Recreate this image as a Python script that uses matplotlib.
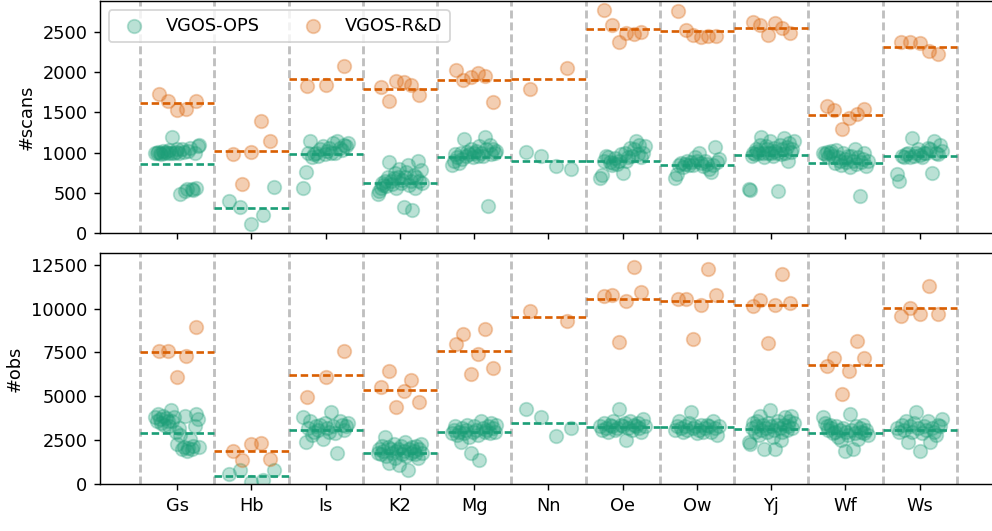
import numpy as np
import matplotlib.pyplot as plt

stations = ["Gs", "Hb", "Is", "K2", "Mg", "Nn", "Oe", "Ow", "Yj", "Wf", "Ws"]

# number of scans per session, VGOS-OPS
ops_scans = [
    [1000, 990, 1010, 1000, 985, 1020, 995, 1005, 1000, 1030, 990, 1200, 1000,
     1010, 1040, 1000, 480, 1050, 1010, 520, 540, 1020, 1060, 550, 530, 1000,
     560, 1080, 1100],
    [397, 321, 104, 217, 565],
    [560, 760, 1000, 1150, 950, 980, 1000, 960, 1040, 1080, 980, 1020, 1060,
     990, 1120, 1000, 1150, 1060, 1030, 1100, 1080, 1120],
    [480, 520, 560, 620, 600, 650, 580, 700, 880, 640, 610, 680, 750, 560, 700,
     800, 620, 660, 320, 690, 760, 850, 600, 650, 280, 720, 560, 700, 900, 640,
     780, 620],
    [850, 900, 980, 950, 870, 1000, 920, 1170, 960, 1010, 980, 1050, 940, 990,
     1020, 960, 1080, 1000, 960, 1200, 1040, 330, 1100, 980, 1050, 1000, 1020],
    [1011, 957, 836, 790],
    [680, 720, 900, 960, 940, 880, 850, 870, 930, 860, 900, 980, 740, 1000,
     900, 940, 1060, 960, 1040, 1150, 980, 1100, 950, 1000, 1080],
    [680, 730, 850, 870, 820, 860, 900, 840, 880, 850, 950, 900, 1000, 870, 830,
     900, 860, 800, 760, 850, 1070, 880, 920],
    [550, 530, 960, 1000, 980, 1050, 1020, 990, 1100, 1200, 1000, 950, 1080,
     1040, 990, 1150, 1000, 960, 1060, 1020, 1000, 520, 1100, 980, 1050, 1180,
     1000, 1070, 900, 1120, 1010, 1040, 1150],
    [1000, 980, 1010, 950, 990, 1020, 960, 870, 1030, 940, 900, 850, 1000, 920,
     880, 960, 820, 960, 900, 1050, 860, 940, 455, 880, 920, 1000, 830, 900],
    [730, 640, 960, 950, 980, 1000, 940, 1180, 960, 1000, 1050, 970, 940, 1000,
     990, 1060, 1040, 750, 1150, 1000, 980, 1100, 1020],
]

# number of scans per session, VGOS-R&D
rd_scans = [
    [1735, 1640, 1535, 1547, 1644],
    [979, 602, 1011, 1396, 1149],
    [1836, 1848, 2078],
    [1819, 1648, 1890, 1877, 1840, 1714],
    [2024, 1911, 1945, 1990, 1961, 1631],
    [1794, 2049],
    [2777, 2592, 2384, 2497, 2484, 2509],
    [2760, 2526, 2463, 2442, 2454, 2454],
    [2635, 2588, 2470, 2614, 2551, 2488],
    [1576, 1535, 1292, 1430, 1484, 1547],
    [2379, 2379, 2371, 2266, 2225],
]

# number of observations per session, VGOS-OPS
ops_obs = [
    [3800, 3600, 4000, 3700, 3500, 3900, 3400, 3750, 3600, 3300, 4200, 3600,
     3800, 3000, 2300, 3200, 2800, 2000, 2100, 3900, 1900, 2050, 2600, 2000,
     2200, 3300, 4000, 3700, 2100],
    [585, 813, 114, 244, 813],
    [3800, 2400, 3200, 3600, 2800, 3000, 3300, 3100, 3400, 2600, 3500, 3200,
     3000, 4100, 3300, 2900, 1800, 3600, 3400, 3100, 3300, 3500],
    [1800, 2000, 1700, 2200, 1900, 2700, 1600, 2100, 1200, 2000, 1800, 2300,
     1500, 1900, 2000, 1100, 2200, 1700, 1900, 2400, 1600, 800, 2000, 1800,
     2100, 1900, 1700, 2200, 1500, 2000, 2300, 1800],
    [2900, 3100, 3300, 2800, 3000, 2400, 3200, 2900, 3100, 3400, 2700, 1800,
     3000, 3300, 3100, 2800, 1400, 3600, 3200, 3000, 3100, 3300, 2900, 3500,
     3200, 3000, 3400],
    [4280, 3843, 2745, 3180],
    [3300, 3100, 3500, 3200, 3000, 3400, 3300, 3600, 3100, 3200, 4300, 3400,
     3300, 3500, 2500, 3200, 3600, 3100, 3400, 3300, 3500, 3200, 3000, 3700,
     3300],
    [3100, 3300, 3600, 3200, 3000, 3300, 3100, 3500, 4100, 3200, 3300, 2900,
     3100, 3400, 3000, 3200, 3400, 3300, 3000, 3600, 3200, 2800, 3300],
    [2400, 2300, 3200, 3500, 3000, 3300, 3600, 2800, 3900, 3100, 3400, 2000,
     3200, 3000, 3500, 4200, 3300, 2700, 3100, 2000, 3400, 3600, 3200, 2500,
     3000, 3400, 3800, 3100, 3300, 3600, 3900, 3200, 3500],
    [3800, 3500, 3300, 3100, 3400, 3200, 2900, 3000, 3300, 2700, 3100, 2500,
     3200, 1900, 3000, 2800, 4000, 3100, 2000, 2900, 3300, 2600, 3200, 3000,
     3400, 2900, 3100, 2800],
    [3200, 3000, 3400, 3100, 3600, 2400, 3300, 3000, 3500, 4100, 3200, 1900,
     2900, 3300, 3100, 3600, 2400, 3200, 3000, 2800, 3400, 3300, 3700],
]

# number of observations per session, VGOS-R&D
rd_obs = [
    [7574, 7574, 6115, 7309, 8956],
    [1875, 1381, 2290, 2330, 1438],
    [4977, 6115, 7591],
    [5547, 6436, 4375, 5320, 5928, 4695],
    [7955, 8523, 6250, 7403, 8807, 6625],
    [9848, 9280],
    [10699, 10756, 8102, 10432, 12364, 10943],
    [10568, 10568, 8239, 10227, 12273, 10756],
    [10148, 10511, 8011, 10187, 11949, 10341],
    [6739, 7159, 5114, 6455, 8142, 7159],
    [9564, 10057, 9678, 11286, 9716],
]

# station averages (dashed lines)
ops_scans_mean = [855, 314, 986, 615, 949, 891, 895, 848, 974, 873, 953]
rd_scans_mean = [1620, 1024, 1923, 1794, 1907, 1920, 2542, 2513, 2560, 1472, 2316]
ops_obs_mean = [2900, 490, 3068, 1761, 2955, 3483, 3256, 3239, 3142, 2898, 3102]
rd_obs_mean = [7500, 1875, 6193, 5358, 7591, 9523, 10545, 10415, 10227, 6761, 10034]

c_ops = "#1b9e77"
c_rd = "#d95f02"

plt.rcParams['font.size'] = 10

fig, axes = plt.subplots(2, 1, sharex=True, figsize=(992/128, 531/128), dpi=128)
fig.subplots_adjust(left=0.1008, right=1.002, top=0.998, bottom=0.088, hspace=0.086)


def draw(ax, ops, rd, ops_mean, rd_mean):
    for i in range(len(stations)):
        n = len(ops[i])
        xo = i + np.linspace(-0.3, 0.3, n) if n > 1 else [i]
        ax.scatter(xo, ops[i], s=58, color=c_ops, alpha=0.3, zorder=2,
                   label="VGOS-OPS" if i == 0 else None)
        n = len(rd[i])
        xr = i + np.linspace(-0.25, 0.25, n) if n > 1 else [i]
        ax.scatter(xr, rd[i], s=58, color=c_rd, alpha=0.3, zorder=2,
                   label="VGOS-R&D" if i == 0 else None)
        ax.plot([i - 0.5, i + 0.5], [ops_mean[i], ops_mean[i]], color=c_ops,
                lw=1.5, ls=(0, (2.8, 1.4)), zorder=3)
        ax.plot([i - 0.5, i + 0.5], [rd_mean[i], rd_mean[i]], color=c_rd,
                lw=1.5, ls=(0, (2.8, 1.4)), zorder=3)
    for i in range(len(stations) + 1):
        ax.axvline(i - 0.5, color="grey", alpha=0.5, lw=1.6, ls=(0, (2.8, 1.4)), zorder=1)


ax1, ax2 = axes
draw(ax1, ops_scans, rd_scans, ops_scans_mean, rd_scans_mean)
draw(ax2, ops_obs, rd_obs, ops_obs_mean, rd_obs_mean)

ax1.set_ylim(0, 2890)
ax2.set_ylim(0, 13180)
ax1.set_ylabel("#scans")
ax2.set_ylabel("#obs")
ax2.set_xlim(-1.04, 11.0)
ax2.set_xticks(range(len(stations)))
ax2.set_xticklabels(stations)
ax1.legend(loc="upper left", ncol=2)

fig.savefig("out.png", dpi=128)
